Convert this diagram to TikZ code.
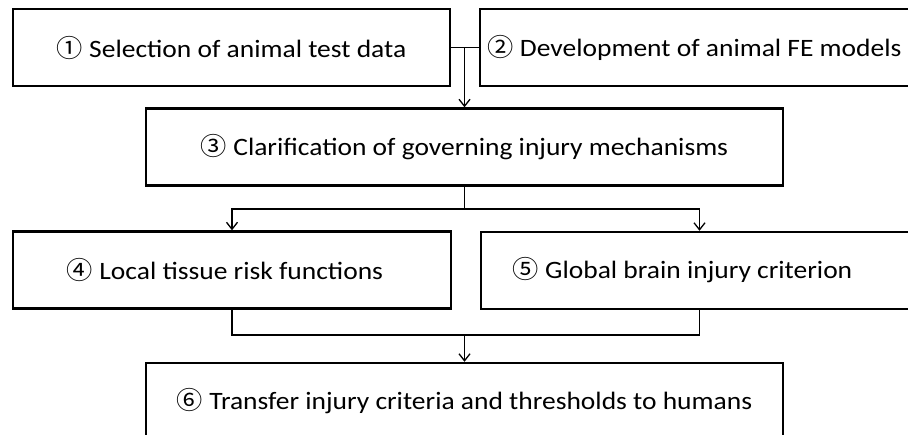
\documentclass[tikz,border=0pt]{standalone}
\usepackage{fontspec}
\setmainfont{Carlito}[FakeStretch=1.1]
\newfontfamily\cjk{Noto Sans CJK JP}[FakeStretch=1.05]
\usetikzlibrary{arrows.meta}
\newcommand{\cnum}[1]{{\cjk #1}}
\begin{document}
\begin{tikzpicture}[x=1pt,y=1pt,
  box/.style={draw=black, line width=2.4pt, minimum height=77pt, inner sep=0pt,
    font=\fontsize{25}{29}\selectfont, text=black},
  conn/.style={draw=black, line width=1.3pt},
  arr/.style={conn, -{Straight Barb[length=7pt,width=11pt,line width=1.3pt]}}]
\useasboundingbox (0,0) rectangle (908,-434);
\fill[white] (0,0) rectangle (908,-434);
\node[box, minimum width=437pt] (b1) at (231.5,-47.5) {\cnum{①} Selection of animal test data};
\node[box, minimum width=437pt] (b2) at (698.5,-47.5) {\cnum{②} Development of animal FE models\hspace*{8pt}};
\node[box, minimum width=637pt] (b3) at (464.5,-147) {\cnum{③} Clarification of governing injury mechanisms};
\node[box, minimum width=438pt] (b4) at (232,-270) {\cnum{④} Local tissue risk functions\hspace*{14pt}};
\node[box, minimum width=437pt] (b5) at (699.5,-270.5) {\cnum{⑤} Global brain injury criterion\hspace*{34pt}};
\node[box, minimum width=637pt] (b6) at (464.5,-401.5) {\cnum{⑥} Transfer injury criteria and thresholds to humans};
\draw[conn] (b1.east) -- (b2.west);
\coordinate (j1) at (464.5,-47.5);
\draw[arr] (j1) -- (b3.north);
\coordinate (s1) at (464.5,-209);
\draw[conn] (b3.south) -- (s1);
\draw[arr] (s1) -| (b4.north);
\draw[arr] (s1) -| (b5.north);
\coordinate (m1) at (464.5,-335);
\draw[conn] (b4.south) |- (m1) -| (b5.south);
\draw[arr] (m1) -- (b6.north);
\end{tikzpicture}
\end{document}
